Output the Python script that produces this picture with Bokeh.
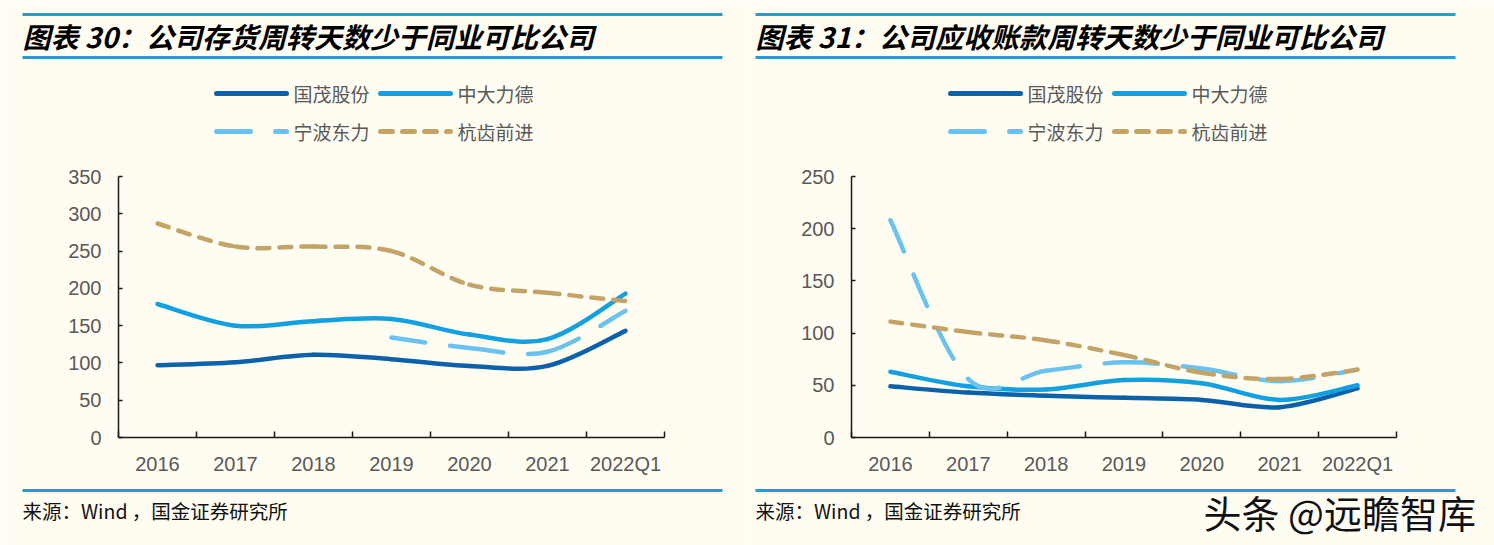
from bokeh.plotting import figure
from bokeh.layouts import row
from bokeh.models import Range1d, FixedTicker, ColumnDataSource
from bokeh.core.properties import value
from bokeh.embed import file_html
from bokeh.resources import INLINE

# ---------------- data ----------------
categories = ["2016", "2017", "2018", "2019", "2020", "2021", "2022Q1"]
series_names = ["国茂股份", "中大力德", "宁波东力", "杭齿前进"]

# 图表30 存货周转天数
inv_guomao = [97, 101, 111, 105, 96, 96, 143]
inv_zhongda = [179, 150, 156, 159, 138, 132, 193]
inv_ningbo = [None, None, None, 134, 120, 115, 170]
inv_hangchi = [287, 256, 256, 250, 205, 194, 183]

# 图表31 应收账款周转天数
rec_guomao = [49, 43, 40, 38, 36, 29, 47]
rec_zhongda = [63, 49, 46, 55, 52, 36, 50]
rec_ningbo = [208, 56, 64, 72, 66, 54, 65]
rec_hangchi = [111, 101, 93, 79, 62, 56, 65]

titles = ["图表 30：公司存货周转天数少于同业可比公司",
          "图表 31：公司应收账款周转天数少于同业可比公司"]
source_text = "来源：Wind ，国金证券研究所"
watermark = "头条 @远瞻智库"

# ---------------- styles ----------------
BG = "#FFFDF2"
RULE = "#2A9BD0"
COLORS = ["#0C62AA", "#12A0E0", "#6AC2F0", "#C4A466"]
DASHES = ["solid", "solid", "34 25", "12 10"]
CJK = "Noto Sans CJK SC"
LAT = "Liberation Sans"
W, H = 747, 545
FRAME_TOP, FRAME_BOTTOM = 176, 437


def bezier_source(vals):
    idx = [i for i, v in enumerate(vals) if v is not None]
    ys = [vals[i] for i in idx]
    xs = idx
    n = len(xs)
    d = dict(x0=[], y0=[], x1=[], y1=[], cx0=[], cy0=[], cx1=[], cy1=[])
    for k in range(n - 1):
        pm = k - 1 if k > 0 else k
        pp = k + 2 if k + 2 < n else k + 1
        d["x0"].append(xs[k]); d["y0"].append(ys[k])
        d["x1"].append(xs[k + 1]); d["y1"].append(ys[k + 1])
        d["cx0"].append(xs[k] + (xs[k + 1] - xs[pm]) / 6.0)
        d["cy0"].append(ys[k] + (ys[k + 1] - ys[pm]) / 6.0)
        d["cx1"].append(xs[k + 1] - (xs[pp] - xs[k]) / 6.0)
        d["cy1"].append(ys[k + 1] - (ys[pp] - ys[k]) / 6.0)
    return ColumnDataSource(d)


def panel(series, ymax, title, mbl, fw, rule_x, leg_x, mark=False):
    mbr = W - mbl - fw
    p = figure(width=W, height=H, x_range=Range1d(-0.5, 6.5), y_range=Range1d(0, ymax),
               output_backend="svg", toolbar_location=None,
               min_border_left=mbl, min_border_right=mbr, min_border_top=FRAME_TOP,
               min_border_bottom=H - FRAME_BOTTOM,
               background_fill_color=BG, border_fill_color=BG, outline_line_color=None)
    p.grid.visible = False

    ux = fw / 7.0
    uy = (FRAME_BOTTOM - FRAME_TOP) / float(ymax)

    def dx(x):   # panel pixel -> data x (for page decorations only)
        return -0.5 + (x - mbl) / ux

    def dy(y):   # panel pixel -> data y (for page decorations only)
        return (FRAME_BOTTOM - y) / uy

    def rule(y):
        p.segment(x0=[dx(rule_x)], y0=[dy(y)], x1=[dx(rule_x + 700)], y1=[dy(y)],
                  line_color=RULE, line_width=3, level="overlay")

    def text(x, y, s, size, color, style="normal"):
        p.text(x=[dx(x)], y=[dy(y)], text=[s], text_font=value(CJK), text_font_size=size,
               text_font_style=style, text_color=color, text_baseline="middle",
               text_align="left", level="overlay")

    # header
    rule(14)
    rule(57)
    text(rule_x, 35, title, "28px", "#000000", "bold italic")
    pos = [(leg_x, 93), (leg_x + 164, 93), (leg_x, 131), (leg_x + 164, 131)]
    for (x, y), name, c, dsh in zip(pos, series_names, COLORS, DASHES):
        p.segment(x0=[dx(x)], y0=[dy(y)], x1=[dx(x + 70)], y1=[dy(y)], line_color=c,
                  line_width=5, line_dash=dsh, line_cap="round", level="overlay")
        text(x + 77, y, name, "19px", "#595959")

    # footer
    rule(490)
    text(rule_x, 510, source_text, "19.5px", "#111111")
    if mark:
        text(454.5, 509.5, watermark, "38px", "#FFFFFF")
        text(456, 511, watermark, "38px", "#111111")

    # data
    for vals, c, dsh in zip(series, COLORS, DASHES):
        p.bezier(x0="x0", y0="y0", x1="x1", y1="y1", cx0="cx0", cy0="cy0", cx1="cx1", cy1="cy1",
                 source=bezier_source(vals), line_color=c, line_width=4.5, line_dash=dsh,
                 line_cap="round")

    ya = p.yaxis[0]
    ya.ticker = FixedTicker(ticks=list(range(0, ymax + 1, 50)))
    ya.major_tick_in = 4
    ya.major_tick_out = 0
    ya.major_label_standoff = 17
    xa = p.xaxis[0]
    xa.ticker = FixedTicker(ticks=list(range(len(categories))),
                            minor_ticks=[i - 0.5 for i in range(len(categories) + 1)])
    xa.major_label_overrides = {i: c for i, c in enumerate(categories)}
    xa.minor_tick_in = 6
    xa.minor_tick_out = 0
    xa.major_label_standoff = 9
    for ax in (xa, ya):
        ax.axis_line_color = "#1A1A1A"
        ax.axis_line_width = 1.5
        ax.major_tick_line_color = "#1A1A1A" if ax is ya else None
        ax.minor_tick_line_color = "#1A1A1A" if ax is xa else None
        ax.major_tick_line_width = 1.5
        ax.minor_tick_line_width = 1.5
        ax.major_label_text_font = LAT
        ax.major_label_text_font_size = "20px"
        ax.major_label_text_color = "#595959"
    return p


left = panel([inv_guomao, inv_zhongda, inv_ningbo, inv_hangchi], 350, titles[0],
             118, 546, 22, 216)
right = panel([rec_guomao, rec_zhongda, rec_ningbo, rec_hangchi], 250, titles[1],
              104, 545, 8, 203, mark=True)
layout = row(left, right)

open("out.html", "w").write(file_html(layout, INLINE))
